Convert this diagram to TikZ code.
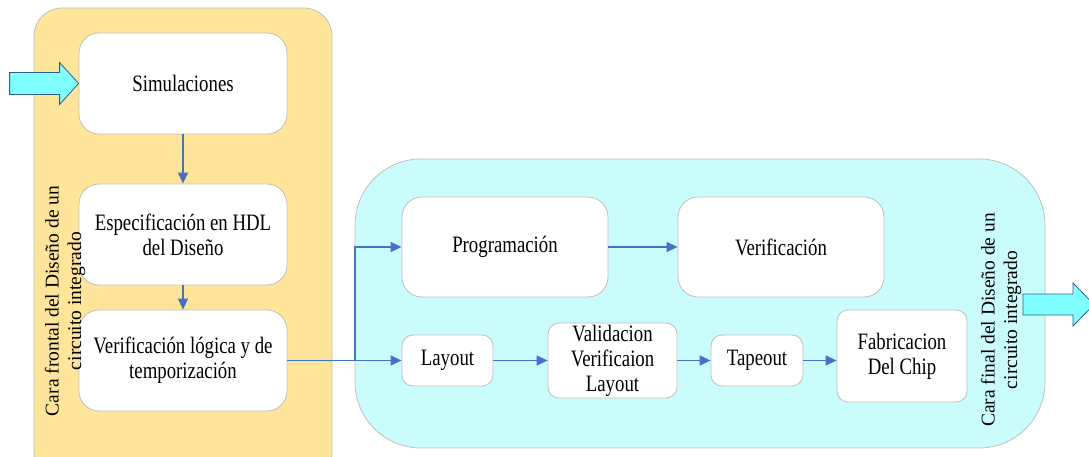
\documentclass[tikz,border=0pt]{standalone}
\usepackage{fontspec}
\setmainfont{Liberation Serif}
\newfontfamily\narrowserif{Liberation Serif}[FakeStretch=0.8]
\usetikzlibrary{arrows.meta}
\definecolor{frontfill}{HTML}{FFE599}
\definecolor{backfill}{HTML}{CAFCFC}
\definecolor{panelline}{HTML}{BFBFBF}
\definecolor{flow}{HTML}{4472C4}
\definecolor{bigarrow}{HTML}{7FFFFF}
\definecolor{bigarrowline}{HTML}{2F5F8F}

\begin{document}
\begin{tikzpicture}[x=1pt,y=-1pt,
  txt/.style={font=\narrowserif\fontsize{23.5}{25}\selectfont},
  stage/.style={txt, draw=panelline, line width=0.8pt, fill=white, rounded corners=20pt,
    align=center, inner sep=0pt},
  smallstage/.style={stage, rounded corners=11pt},
  panel/.style={draw=panelline, line width=0.8pt},
  sidelabel/.style={font=\fontsize{19.5}{22.5}\selectfont, align=center, rotate=90},
  flowline/.style={draw=flow, line width=1.3pt, -{Triangle[length=11pt,width=10pt]}},
  plainflow/.style={draw=flow, line width=1.3pt},
  blockarrow/.style={draw=bigarrowline, fill=bigarrow, line width=0.8pt, line join=miter}]
\useasboundingbox (0,0) rectangle (1089,457);

% background panels
\draw[panel, fill=frontfill, rounded corners=28pt] (34,8) rectangle (332,480);
\draw[panel, fill=backfill, rounded corners=66pt] (355,159) rectangle (1045,448);

% front-end stages
\node[stage, minimum width=208pt, minimum height=101pt] (sim) at (183,83.5) {Simulaciones};
\node[stage, minimum width=208pt, minimum height=101pt] (spec) at (183,234.5) {Especificación en HDL\\del Diseño};
\node[stage, minimum width=208pt, minimum height=101pt] (logic) at (183,360.5) {Verificación lógica y de\\temporización};

% back-end stages
\node[stage, minimum width=206pt, minimum height=100pt] (prog) at (505,247) {Programación};
\node[stage, minimum width=206pt, minimum height=100pt] (verif) at (781,247) {Verificación};
\node[smallstage, minimum width=91pt, minimum height=51pt] (lay) at (447.5,360.5) {Layout};
\node[smallstage, minimum width=129pt, minimum height=75pt] (val) at (612.5,360.5) {Validacion\\Verificaion\\Layout};
\node[smallstage, minimum width=92pt, minimum height=51pt] (tape) at (757,360.5) {Tapeout};
\node[smallstage, minimum width=130pt, minimum height=92pt] (fab) at (902,356) {Fabricacion\\Del Chip};

% input and output block arrows
\draw[blockarrow] (sim.west) ++(-69,-11) -- ++(50,0) -- ++(0,-10) -- (sim.west)
  -- ++(-19,21) -- ++(0,-10) -- ++(-50,0) -- cycle;
\coordinate (out) at (1023,304.5);
\draw[blockarrow] (out) ++(0,-10.5) -- ++(50,0) -- ++(0,-11) -- ++(21,21.5)
  -- ++(-21,21.5) -- ++(0,-11) -- ++(-50,0) -- cycle;

% side labels
\node[sidelabel] (frontlabel) at (65,301) {Cara frontal del Diseño de un\\circuito integrado};
\node[sidelabel] (backlabel) at (1001,320) {Cara final del Diseño de un\\circuito integrado};

% flow connectors
\draw[flowline] (sim) -- (spec);
\draw[flowline] (spec) -- (logic);
\coordinate (split) at (355,360.5);
\draw[plainflow] (logic.east) -- (split);
\draw[flowline] (split) |- (prog.west);
\draw[flowline] (split) -- (lay.west);
\draw[flowline] (prog) -- (verif);
\draw[flowline] (lay) -- (val);
\draw[flowline] (val) -- (tape);
\draw[flowline] (tape.east) -- (tape.east -| fab.west);
\end{tikzpicture}
\end{document}
